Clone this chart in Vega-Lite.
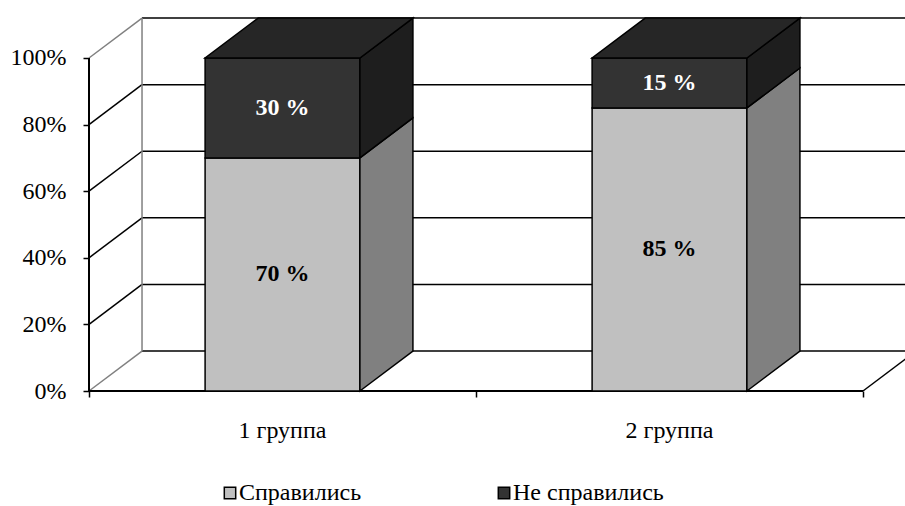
{
  "$schema": "https://vega.github.io/schema/vega-lite/v6.json",
  "width": 816,
  "height": 374,
  "autosize": {"type": "none"},
  "padding": {"left": 89, "top": 17, "right": 0, "bottom": 115},
  "background": "white",
  "config": {"view": {"stroke": null}, "font": "Liberation Serif"},
  "datasets": {
    "results": [
      {"group": "1 группа", "status": "Справились", "value": 70},
      {"group": "1 группа", "status": "Не справились", "value": 30},
      {"group": "2 группа", "status": "Справились", "value": 85},
      {"group": "2 группа", "status": "Не справились", "value": 15}
    ],
    "grid": [{"v": 0}, {"v": 20}, {"v": 40}, {"v": 60}, {"v": 80}, {"v": 100}]
  },
  "layer": [
    {
      "data": {"name": "grid"},
      "transform": [{"calculate": "datum.v + 12", "as": "vb"}],
      "mark": {"type": "rule", "color": "black", "strokeWidth": 1.5},
      "encoding": {
        "x": {"datum": 0.137, "type": "quantitative", "title": null, "scale": {"domain": [0, 2.1085], "nice": false, "zero": false},
          "axis": {"values": [0, 1, 2], "labels": false, "domain": false, "grid": false, "ticks": true, "tickSize": 6, "tickWidth": 1.5, "tickColor": "black", "title": null}},
        "x2": {"datum": 2.4},
        "y": {"field": "vb", "type": "quantitative", "title": null, "scale": {"domain": [0, 112.31], "nice": false, "zero": false},
          "axis": {"values": [0, 20, 40, 60, 80, 100], "labelExpr": "datum.value + '%'", "domain": false, "grid": false, "tickSize": 6, "tickWidth": 1.5, "tickColor": "black", "labelFont": "Liberation Serif", "labelFontSize": 24, "labelColor": "black", "labelPadding": 17, "title": null}}
      }
    },
    {
      "data": {"name": "grid"},
      "transform": [{"calculate": "datum.v + 12", "as": "vb"}],
      "mark": {"type": "rule", "strokeWidth": 1.5},
      "encoding": {
        "x": {"datum": 0, "type": "quantitative", "title": null},
        "x2": {"datum": 0.137},
        "y": {"field": "v", "type": "quantitative", "title": null},
        "y2": {"field": "vb"},
        "color": {"condition": {"test": "datum.v == 0 || datum.v == 100", "value": "#808080"}, "value": "black"}
      }
    },
    {
      "data": {"values": [{}]},
      "mark": {"type": "rule", "color": "#808080", "strokeWidth": 1.5},
      "encoding": {
        "x": {"datum": 0.137, "type": "quantitative", "title": null},
        "y": {"datum": 12, "type": "quantitative", "title": null},
        "y2": {"datum": 112}
      }
    },
    {
      "data": {"values": [{}]},
      "mark": {"type": "rule", "color": "black", "strokeWidth": 1.5},
      "encoding": {
        "x": {"datum": 2, "type": "quantitative", "title": null},
        "x2": {"datum": 2.137},
        "y": {"datum": 0, "type": "quantitative", "title": null},
        "y2": {"datum": 12}
      }
    },
    {
      "data": {"values": [{}]},
      "mark": {"type": "rule", "color": "black", "strokeWidth": 2},
      "encoding": {
        "x": {"datum": 0, "type": "quantitative", "title": null},
        "y": {"datum": 0, "type": "quantitative", "title": null},
        "y2": {"datum": 100}
      }
    },
    {
      "data": {"values": [{}]},
      "mark": {"type": "rule", "color": "black", "strokeWidth": 2},
      "encoding": {
        "x": {"datum": 0, "type": "quantitative", "title": null},
        "x2": {"datum": 2},
        "y": {"datum": 0, "type": "quantitative", "title": null}
      }
    },
    {
      "data": {"name": "results"},
      "transform": [
        {"stack": "value", "groupby": ["group"], "sort": [{"field": "status", "order": "descending"}], "as": ["y0", "y1"]},
        {"window": [{"op": "dense_rank", "as": "gr"}], "sort": [{"field": "group", "order": "ascending"}]},
        {"calculate": "datum.gr - 0.7", "as": "xl"},
        {"calculate": "datum.gr - 0.3", "as": "xr"}
      ],
      "mark": {"type": "rect", "stroke": "black", "strokeWidth": 1.5},
      "encoding": {
        "x": {"field": "xl", "type": "quantitative", "title": null},
        "x2": {"field": "xr"},
        "y": {"field": "y0", "type": "quantitative", "title": null},
        "y2": {"field": "y1"},
        "color": {
          "field": "status", "type": "nominal",
          "scale": {"domain": ["Справились", "Не справились"], "range": ["#C0C0C0", "#333333"]},
          "legend": {
            "title": null, "orient": "none", "legendX": 129, "legendY": 464, "direction": "horizontal",
            "padding": 0, "symbolType": "square", "symbolSize": 130, "symbolStrokeColor": "black", "symbolStrokeWidth": 1.5,
            "labelFont": "Liberation Serif", "labelFontSize": 24, "labelColor": "black", "labelOffset": -3,
            "columnPadding": 130, "labelLimit": 300
          }
        }
      }
    },
    {
      "data": {"name": "results"},
      "transform": [
        {"stack": "value", "groupby": ["group"], "sort": [{"field": "status", "order": "descending"}], "as": ["y0", "y1"]},
        {"window": [{"op": "dense_rank", "as": "gr"}], "sort": [{"field": "group", "order": "ascending"}]},
        {"calculate": "[0, 1]", "as": "k"},
        {"flatten": ["k"]},
        {"calculate": "datum.gr - 0.3 + datum.k * 0.137", "as": "sx"},
        {"calculate": "datum.y0 + datum.k * 12", "as": "sy0"},
        {"calculate": "datum.y1 + datum.k * 12", "as": "sy1"}
      ],
      "mark": {"type": "area", "stroke": "black", "strokeWidth": 1.5, "opacity": 1},
      "encoding": {
        "x": {"field": "sx", "type": "quantitative", "title": null},
        "y": {"field": "sy0", "type": "quantitative", "title": null, "stack": null},
        "y2": {"field": "sy1"},
        "detail": [{"field": "group"}, {"field": "status"}],
        "color": {"condition": {"test": "datum.status == 'Справились'", "value": "#808080"}, "value": "#1E1E1E"}
      }
    },
    {
      "data": {"name": "results"},
      "transform": [
        {"stack": "value", "groupby": ["group"], "sort": [{"field": "status", "order": "descending"}], "as": ["y0", "y1"]},
        {"joinaggregate": [{"op": "max", "field": "y1", "as": "ytop"}], "groupby": ["group"]},
        {"filter": "datum.y1 == datum.ytop"},
        {"window": [{"op": "dense_rank", "as": "gr"}], "sort": [{"field": "group", "order": "ascending"}]},
        {"calculate": "[0, 1]", "as": "k"},
        {"flatten": ["k"]},
        {"calculate": "datum.gr - 0.7 + datum.k * 0.137", "as": "tx0"},
        {"calculate": "datum.gr - 0.3 + datum.k * 0.137", "as": "tx1"},
        {"calculate": "datum.y1 + datum.k * 12", "as": "ty"}
      ],
      "mark": {"type": "area", "orient": "horizontal", "stroke": "black", "strokeWidth": 1.5, "color": "#262626", "opacity": 1},
      "encoding": {
        "y": {"field": "ty", "type": "quantitative", "title": null},
        "x": {"field": "tx0", "type": "quantitative", "title": null, "stack": null},
        "x2": {"field": "tx1"},
        "detail": {"field": "group"}
      }
    },
    {
      "data": {"name": "results"},
      "transform": [
        {"stack": "value", "groupby": ["group"], "sort": [{"field": "status", "order": "descending"}], "as": ["y0", "y1"]},
        {"window": [{"op": "dense_rank", "as": "gr"}], "sort": [{"field": "group", "order": "ascending"}]},
        {"calculate": "datum.gr - 0.5", "as": "xc"},
        {"calculate": "(datum.y0 + datum.y1) / 2", "as": "ym"},
        {"calculate": "datum.value + ' %'", "as": "label"}
      ],
      "mark": {"type": "text", "font": "Liberation Serif", "fontWeight": "bold", "fontSize": 24, "align": "center", "baseline": "middle"},
      "encoding": {
        "x": {"field": "xc", "type": "quantitative", "title": null},
        "y": {"field": "ym", "type": "quantitative", "title": null},
        "text": {"field": "label"},
        "color": {"condition": {"test": "datum.status == 'Не справились'", "value": "white"}, "value": "black"}
      }
    },
    {
      "data": {"name": "results"},
      "transform": [
        {"window": [{"op": "dense_rank", "as": "gr"}], "sort": [{"field": "group", "order": "ascending"}]},
        {"aggregate": [{"op": "min", "field": "gr", "as": "gr"}], "groupby": ["group"]},
        {"calculate": "datum.gr - 0.5", "as": "xc"}
      ],
      "mark": {"type": "text", "font": "Liberation Serif", "fontSize": 24, "align": "center", "baseline": "middle", "color": "black"},
      "encoding": {
        "x": {"field": "xc", "type": "quantitative", "title": null},
        "y": {"datum": -12, "type": "quantitative", "title": null},
        "text": {"field": "group"}
      }
    }
  ]
}
